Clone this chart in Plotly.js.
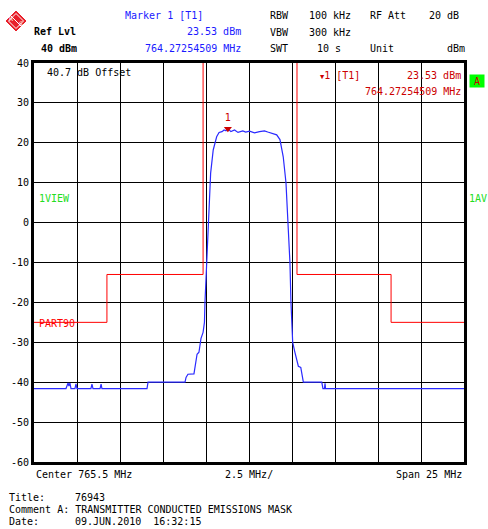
<!DOCTYPE html>
<html>
<head>
<meta charset="utf-8">
<script src="https://cdn.plot.ly/plotly-3.0.1.min.js"></script>
<style>html,body{margin:0;padding:0;background:#fff;}#chart{width:488px;height:529px;}</style>
</head>
<body>
<div id="chart"></div>
<script>
// ---- data (MHz, dBm) ----
const traceFreqMHz = [753.00,754.86,754.98,755.03,755.09,755.15,755.38,755.44,755.50,756.31,756.37,756.43,756.84,756.90,756.95,759.57,759.63,761.78,761.84,761.95,762.30,762.36,762.48,762.59,762.71,762.83,762.91,762.94,763.04,763.13,763.27,763.42,763.62,763.76,763.93,764.05,764.16,764.27,764.45,764.66,764.86,765.14,765.31,765.53,765.82,766.11,766.40,766.59,766.78,766.98,767.11,767.30,767.49,767.65,767.78,767.88,767.94,768.04,768.17,768.29,768.37,768.51,768.66,769.73,769.80,769.89,769.92,769.95,778.00];
const traceLevelDbm = [-41.6,-41.6,-40.2,-41.0,-40.2,-41.6,-41.6,-40.4,-41.6,-41.6,-40.5,-41.6,-41.6,-40.5,-41.6,-41.6,-40.0,-40.0,-38.8,-38.0,-37.9,-36.5,-33.0,-32.5,-29.0,-27.5,-25.0,-20.0,-10.0,0.0,12.4,18.2,21.5,22.6,22.8,23.2,23.0,23.53,22.8,23.2,22.6,23.0,22.7,22.9,22.5,22.8,23.0,22.7,22.4,22.2,22.0,20.8,16.5,10.0,0.0,-10.0,-20.0,-30.0,-32.5,-34.5,-36.0,-36.3,-40.0,-40.0,-41.6,-41.6,-40.3,-41.6,-41.6];
const maskLeftFreqMHz = [753.00,757.24,757.24,762.83,762.83];
const maskLeftDb = [-25,-25,-13,-13,40];
const maskRightFreqMHz = [768.29,768.29,773.76,773.76,778.00];
const maskRightDb = [40,-13,-13,-25,-25];
const markerFreqMHz = [764.27254509];
const markerDbm = [23.53];
const yTickVals = [40,30,20,10,0,-10,-20,-30,-40,-50,-60];
const yTickText = ['40','30','20','10','0','-10','-20','-30','-40','-50','-60'];
const centerMHz = 765.5, spanMHz = 25;

// ---- geometry helpers (plot area in pixels) ----
const L = 34, R = 464, T = 63, B = 462;
const px = x => (x - L) / (R - L);
const py = y => (B - y) / (B - T);
const MONO = 'DejaVu Sans Mono, Liberation Mono, monospace';
function txt(x, y, text, color, anchor, size, extra) {
  return Object.assign({xref:'paper', yref:'paper', x:px(x), y:py(y), text:text, showarrow:false,
    xanchor:anchor||'left', yanchor:'middle', font:{family:MONO, size:size||10, color:color||'#000'}}, extra||{});
}

const traces = [
  {x:maskLeftFreqMHz, y:maskLeftDb, mode:'lines', line:{color:'#ff0000', width:1}, hoverinfo:'skip'},
  {x:maskRightFreqMHz, y:maskRightDb, mode:'lines', line:{color:'#ff0000', width:1}, hoverinfo:'skip'},
  {x:traceFreqMHz, y:traceLevelDbm, mode:'lines', line:{color:'#2a2aff', width:1.2}, hoverinfo:'skip'},
  {x:markerFreqMHz, y:markerDbm, mode:'markers+text', text:['1'], textposition:'top center',
   textfont:{family:MONO, size:10, color:'#cc0000'},
   marker:{symbol:'triangle-down', size:7, color:'#cc0000', yshift:0}, hoverinfo:'skip'}
];

const annotations = [
  // header
  txt(32, 32, '<b>Ref Lvl</b>', '#000', 'left', 10),
  txt(39, 49, '<b>40 dBm</b>', '#000', 'left', 10),
  txt(123, 16, 'Marker 1 [T1]', '#1a1aff', 'left', 10),
  txt(243, 32, markerDbm[0].toFixed(2) + ' dBm', '#1a1aff', 'right', 10),
  txt(243, 49, markerFreqMHz[0].toFixed(8) + ' MHz', '#1a1aff', 'right', 10),
  txt(268, 16, 'RBW', '#000', 'left', 10),
  txt(307, 16, '100 kHz', '#000', 'left', 10),
  txt(368, 16, 'RF Att', '#000', 'left', 10),
  txt(461, 16, '20 dB', '#000', 'right', 10),
  txt(268, 33, 'VBW', '#000', 'left', 10),
  txt(307, 33, '300 kHz', '#000', 'left', 10),
  txt(268, 49, 'SWT', '#000', 'left', 10),
  txt(315, 49, '10 s', '#000', 'left', 10),
  txt(368, 49, 'Unit', '#000', 'left', 10),
  txt(467, 49, 'dBm', '#000', 'right', 10),
  // inside plot
  txt(45, 72, '40.7 dB Offset', '#000', 'left', 10),
  txt(318, 75, '<span style="font-size:7px">▼</span>1 [T1]', '#cc0000', 'left', 10),
  txt(463, 75, markerDbm[0].toFixed(2) + ' dBm', '#cc0000', 'right', 10),
  txt(463, 91, markerFreqMHz[0].toFixed(8) + ' MHz', '#cc0000', 'right', 10),
  txt(37, 198, '1VIEW', '#22dd22', 'left', 10),
  txt(467, 198, '1AV', '#22dd22', 'left', 10),
  txt(37, 323, 'PART90', '#ff0000', 'left', 10),
  txt(469, 81, 'A', '#cc0000', 'left', 10, {bgcolor:'#00ff00', width:14, height:12, align:'center', borderpad:0}),
  // bottom axis text
  txt(34, 474, 'Center ' + centerMHz + ' MHz', '#000', 'left', 10),
  txt(249, 474, (spanMHz/10) + ' MHz/', '#000', 'center', 10),
  txt(464, 474, 'Span ' + spanMHz + ' MHz', '#000', 'right', 10),
  // footer
  txt(7, 497, 'Title:', '#000', 'left', 10),
  txt(73, 497, '76943', '#000', 'left', 10),
  txt(7, 509, 'Comment A: TRANSMITTER CONDUCTED EMISSIONS MASK', '#000', 'left', 10),
  txt(7, 521, 'Date:', '#000', 'left', 10),
  txt(73, 521, '09.JUN.2010&nbsp;&nbsp;16:32:15', '#000', 'left', 10)
];

// R&S logo (diamond)
const cx = 16, cy = 21, hs = 10;
const diamond = (h) => `M ${px(cx)} ${py(cy-h)} L ${px(cx+h)} ${py(cy)} L ${px(cx)} ${py(cy+h)} L ${px(cx-h)} ${py(cy)} Z`;
const shapes = [
  {type:'path', xref:'paper', yref:'paper', path:diamond(hs), fillcolor:'#e8202a', line:{color:'#e8202a', width:1}},
  {type:'path', xref:'paper', yref:'paper', path:diamond(hs-2.5), fillcolor:'#e8202a', line:{color:'#ffffff', width:1}},
  {type:'line', xref:'paper', yref:'paper', x0:px(cx-5), y0:py(cy-5), x1:px(cx+5), y1:py(cy+5), line:{color:'#ffffff', width:1}}
];
annotations.push(
  {xref:'paper', yref:'paper', x:px(cx-1), y:py(cy-3), text:'R', showarrow:false, xanchor:'right', yanchor:'middle', font:{family:'DejaVu Sans', size:6, color:'#fff'}},
  {xref:'paper', yref:'paper', x:px(cx+1), y:py(cy+3), text:'S', showarrow:false, xanchor:'left', yanchor:'middle', font:{family:'DejaVu Sans', size:6, color:'#fff'}}
);

const layout = {
  width:488, height:529,
  margin:{l:L, r:488-R, t:T, b:529-B, pad:0},
  paper_bgcolor:'#ffffff', plot_bgcolor:'#ffffff',
  showlegend:false,
  font:{family:MONO, size:10, color:'#000'},
  xaxis:{range:[centerMHz-spanMHz/2, centerMHz+spanMHz/2], tickmode:'linear', tick0:centerMHz-spanMHz/2, dtick:spanMHz/10,
         showticklabels:false, ticks:'', showgrid:true, gridcolor:'#000', gridwidth:1, zeroline:false,
         showline:true, linecolor:'#000', linewidth:3, mirror:true, fixedrange:true},
  yaxis:{range:[-60,40], tickmode:'array', tickvals:yTickVals, ticktext:yTickText, ticks:'',
         tickfont:{family:MONO, size:10, color:'#000'}, showgrid:true, gridcolor:'#000', gridwidth:1, zeroline:false,
         showline:true, linecolor:'#000', linewidth:3, mirror:true, fixedrange:true},
  annotations:annotations,
  shapes:shapes
};

Plotly.newPlot('chart', traces, layout, {displayModeBar:false, staticPlot:true});
</script>
</body>
</html>
